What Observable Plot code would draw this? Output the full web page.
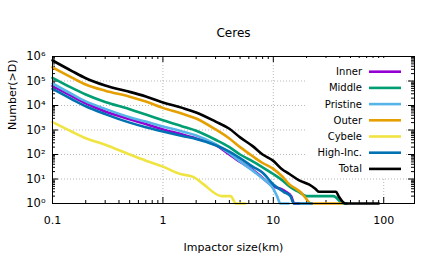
<!DOCTYPE html>
<html><head><meta charset="utf-8">
<script src="https://cdn.jsdelivr.net/npm/d3@7"></script>
<script src="https://cdn.jsdelivr.net/npm/@observablehq/plot@0.6"></script>
<style>body{margin:0;background:#fff}</style>
</head><body><div id="chart"></div>
<script>
const seriesNames = ["Inner", "Middle", "Pristine", "Outer", "Cybele", "High-Inc.", "Total"];
const seriesColors = ["#9400d3", "#009e73", "#56b4e9", "#e69f00", "#f0e442", "#0072b2", "#000000"];

const innerD = [0.1, 0.15, 0.2, 0.3, 0.5, 0.7, 1, 1.5, 2, 3, 4, 5, 6.5, 8, 10, 11.6, 13, 14.5, 15.5, 17];
const innerN = [62000, 24000, 12300, 5700, 2750, 1740, 1050, 650, 450, 250, 100, 50, 24, 11, 5, 4, 3, 2, 1, 1];

const middleD = [0.1, 0.15, 0.2, 0.3, 0.5, 0.7, 1, 1.5, 2, 3, 4, 5, 6.5, 8, 10, 12, 13.3, 15, 17, 20, 35, 43, 46];
const middleN = [135000, 52000, 28000, 13900, 7100, 4300, 2500, 1400, 930, 400, 200, 100, 52, 30, 16, 9, 6, 4, 3, 2, 2, 1, 1];

const pristineD = [0.1, 0.15, 0.2, 0.3, 0.5, 0.7, 1, 1.5, 2, 3, 4, 5, 6.5, 8, 9, 10, 10.8, 11.6, 13.8];
const pristineN = [79000, 29000, 14700, 7300, 3300, 2200, 1400, 870, 600, 265, 112, 52, 22, 10.5, 7, 4, 2, 1, 1];

const outerD = [0.1, 0.15, 0.2, 0.3, 0.5, 0.7, 1, 1.5, 2, 3, 4, 5, 6.5, 8, 10, 12, 14, 16, 17.5, 19, 22, 42];
const outerN = [363000, 138000, 72000, 40000, 23000, 14500, 8000, 4600, 2950, 1050, 450, 200, 85, 45, 26, 13, 6, 4, 3, 2, 1, 1];

const cybeleD = [0.1, 0.15, 0.2, 0.3, 0.5, 0.7, 1, 1.44, 1.9, 2.34, 3.4, 4.1, 4.6, 5.6];
const cybeleN = [2100, 850, 460, 250, 100, 56, 32, 16, 12, 6, 2, 2, 1, 1];

const highIncD = [0.1, 0.15, 0.2, 0.3, 0.5, 0.7, 1, 1.5, 2, 3, 4, 5, 6.5, 8, 10, 12.4, 14.3, 15.3, 22.4];
const highIncN = [48000, 18000, 9300, 4450, 2000, 1300, 870, 570, 430, 240, 132, 71, 32, 18, 6, 3, 2, 1, 1];

const totalD = [0.1, 0.15, 0.2, 0.3, 0.4, 0.5, 0.7, 1, 1.5, 2, 3, 4, 5, 6.5, 8, 10, 12, 14, 17, 21, 24, 26, 37, 39, 45, 90];
const totalN = [690000, 255000, 130000, 66000, 46000, 36000, 23500, 13300, 8000, 5200, 2200, 1120, 500, 220, 100, 55, 25, 16, 9, 6, 4, 3, 3, 2, 1, 1];

const xTickValues = [0.1, 1, 10, 100];
const xTickLabels = ["0.1", "1", "10", "100"];
const yTickValues = [1, 10, 100, 1e3, 1e4, 1e5, 1e6];
const yTickLabels = ["10⁰", "10¹", "10²", "10³", "10⁴", "10⁵", "10⁶"];

const titleText = "Ceres";
const xLabel = "Impactor size(km)";
const yLabel = "Number(>D)";

const allSeries = [[innerD, innerN], [middleD, middleN], [pristineD, pristineN], [outerD, outerN],
  [cybeleD, cybeleN], [highIncD, highIncN], [totalD, totalN]];
const rows = [];
allSeries.forEach(([D, N], i) => D.forEach((d, j) => rows.push({series: seriesNames[i], D: d, N: N[j]})));

const xMax = 190;
const xMinor = [], yMinor = [];
[0.1, 1, 10].forEach(b => { for (let k = 2; k <= 9; k++) if (b * k <= xMax) xMinor.push(b * k); });
[1, 10, 100, 1e3, 1e4, 1e5].forEach(b => { for (let k = 2; k <= 9; k++) yMinor.push(b * k); });
const xTicks = xTickValues.map((v, i) => ({v, label: xTickLabels[i]}));
const yTicks = yTickValues.map((v, i) => ({v, label: yTickLabels[i]}));

const W = 436, H = 262, ml = 52, mr = 22, mt = 56, mb = 59;
const pw = W - ml - mr, ph = H - mt - mb;
const gridStyle = {stroke: "#b8b8b8", strokeDasharray: "1,2", strokeWidth: 1};

const chart = Plot.plot({
  width: W, height: H, marginLeft: ml, marginRight: mr, marginTop: mt, marginBottom: mb,
  style: {fontFamily: "DejaVu Sans", fontSize: "11px", background: "#fff", color: "#000"},
  x: {type: "log", domain: [0.1, xMax], axis: null},
  y: {type: "log", domain: [1, 1e6], axis: null},
  color: {domain: seriesNames, range: seriesColors},
  marks: [
    Plot.ruleX(xTickValues.slice(1), gridStyle),
    Plot.ruleY(yTickValues.slice(1, -1), gridStyle),
    Plot.ruleX(xTickValues, {insetTop: ph - 6, stroke: "#000"}),
    Plot.ruleX(xTickValues, {insetBottom: ph - 6, stroke: "#000"}),
    Plot.ruleX(xMinor, {insetTop: ph - 3, stroke: "#000"}),
    Plot.ruleX(xMinor, {insetBottom: ph - 3, stroke: "#000"}),
    Plot.ruleY(yTickValues, {insetRight: pw - 6, stroke: "#000"}),
    Plot.ruleY(yTickValues, {insetLeft: pw - 6, stroke: "#000"}),
    Plot.ruleY(yMinor, {insetRight: pw - 3, stroke: "#000"}),
    Plot.ruleY(yMinor, {insetLeft: pw - 3, stroke: "#000"}),
    Plot.line(rows, {x: "D", y: "N", z: "series", stroke: "series", strokeWidth: 2.6, curve: "monotone-x"}),
    Plot.frame({stroke: "#000"}),
    Plot.text(xTicks, {x: "v", text: "label", frameAnchor: "bottom", dy: 20, fontSize: 11}),
    Plot.text(yTicks, {y: "v", text: "label", frameAnchor: "left", textAnchor: "end", dx: -7, fontSize: 11.5}),
    Plot.text([titleText], {text: d => d, frameAnchor: "top", dy: -28, fontSize: 12}),
    Plot.text([xLabel], {text: d => d, frameAnchor: "bottom", dy: 47, fontSize: 11}),
    Plot.text([yLabel], {text: d => d, frameAnchor: "left", dx: -40, rotate: -90, fontSize: 11})
  ]
});
document.getElementById("chart").appendChild(chart);

// legend (gnuplot-style opaque key, top right inside the frame)
const svg = d3.select(chart);
const lg = svg.append("g").attr("font-family", "DejaVu Sans").attr("font-size", 10);
lg.append("rect").attr("x", 305).attr("y", 58).attr("width", 100).attr("height", 119).attr("fill", "#fff");
seriesNames.forEach((name, i) => {
  const y = 71.7 + i * 16.2;
  lg.append("text").attr("x", 362).attr("y", y).attr("dy", "0.35em").attr("text-anchor", "end").attr("fill", "#000").text(name);
  lg.append("line").attr("x1", 369).attr("x2", 401).attr("y1", y).attr("y2", y)
    .attr("stroke", seriesColors[i]).attr("stroke-width", 2.6);
});
</script>
</body></html>
